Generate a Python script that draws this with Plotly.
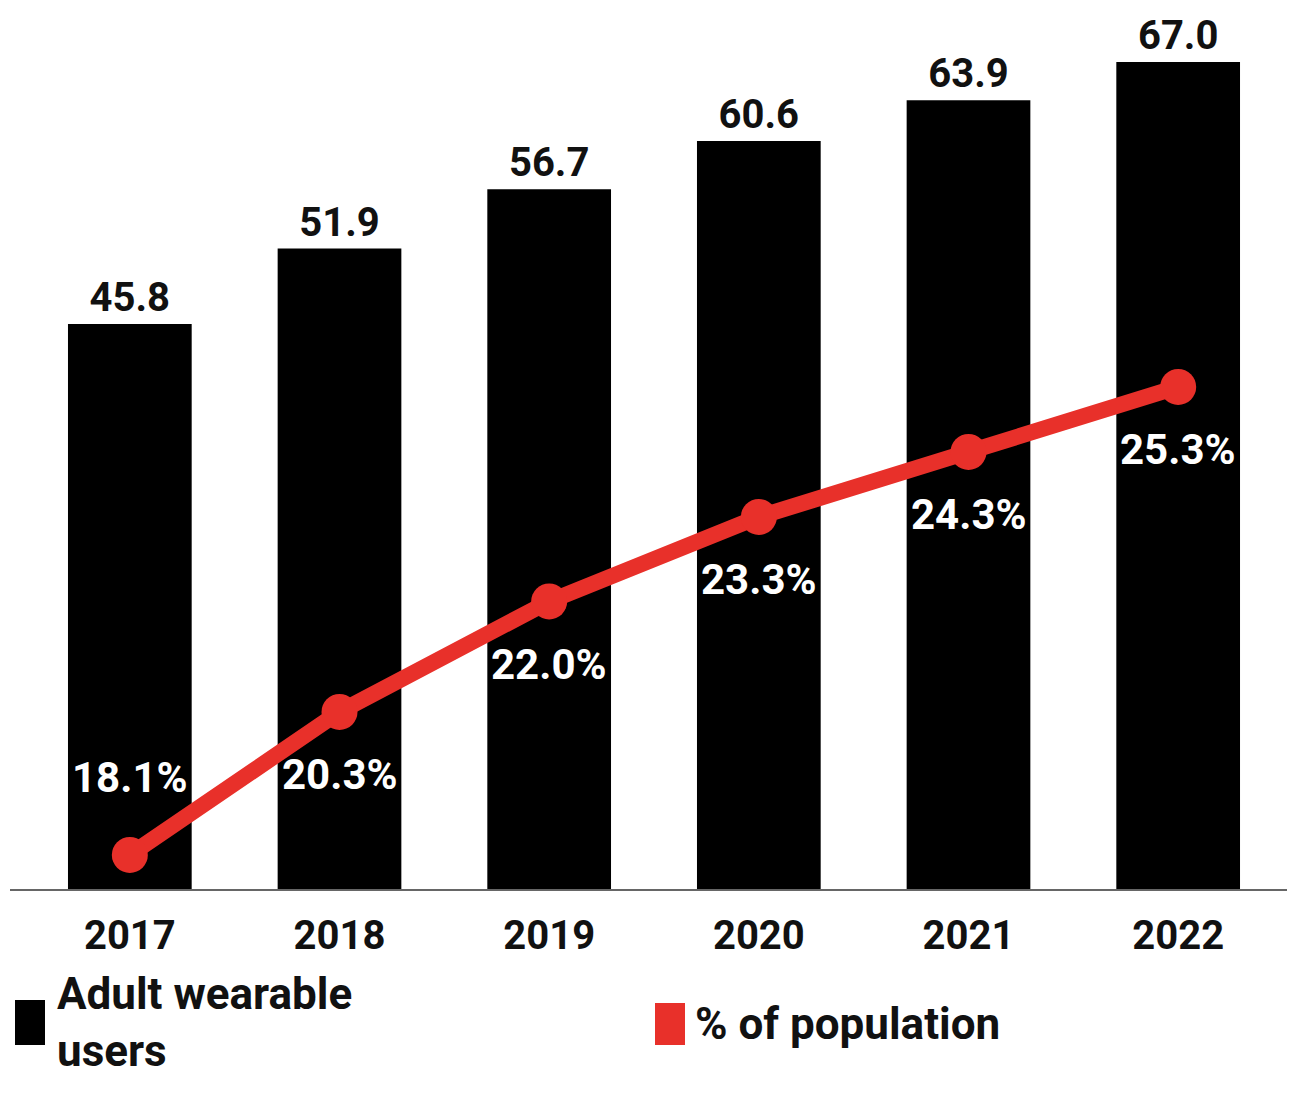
import plotly.graph_objects as go

years = ["2017", "2018", "2019", "2020", "2021", "2022"]
users = [45.8, 51.9, 56.7, 60.6, 63.9, 67.0]
pct = [18.1, 20.3, 22.0, 23.3, 24.3, 25.3]
pct_labels = ["18.1%", "20.3%", "22.0%", "23.3%", "24.3%", "25.3%"]
users_labels = ["45.8", "51.9", "56.7", "60.6", "63.9", "67.0"]
series_names = ["Adult wearable<br>users", "% of population"]

FONT = "Roboto, Arial, sans-serif"
RED = "#E8302A"
OFF = 8  # default body margin of the html page
W, H = 1295 - OFF, 1093 - OFF
L, R, T = 25 - OFF, 12, 0
BASE = 890 - OFF          # baseline in figure pixels
B = H - BASE
FS = 40

def tf(color="#111111", size=FS):
    return dict(family=FONT, size=size, color=color, weight="bold")

fig = go.Figure()
fig.add_trace(go.Bar(
    x=years, y=users, name=series_names[0],
    marker=dict(color="#000000", line=dict(width=0)),
    text=users_labels, textposition="outside", cliponaxis=False,
    textfont=tf(),
    showlegend=False,
))
fig.add_trace(go.Scatter(
    x=years, y=pct, name=series_names[1], yaxis="y2",
    mode="lines+markers",
    line=dict(color=RED, width=16),
    marker=dict(color=RED, size=36),
    cliponaxis=False, showlegend=False,
))

plot_w = W - L - R
plot_h = BASE - T
annotations = []
for i, (v, lab) in enumerate(zip(pct, pct_labels)):
    annotations.append(dict(
        x=i, y=v, xref="x", yref="y2", text=lab, showarrow=False,
        yshift=77 if i == 0 else -63, font=tf("#ffffff", 42),
        xanchor="center", yanchor="middle",
    ))

def px_x(p):
    return (p - OFF - L) / plot_w

def px_y(p):
    return (BASE - (p - OFF)) / plot_h

annotations += [
    dict(text=series_names[0], xref="paper", yref="paper",
         x=px_x(55), y=px_y(1023), xanchor="left", yanchor="middle",
         showarrow=False, align="left", font=tf(size=44)),
    dict(text=series_names[1], xref="paper", yref="paper",
         x=px_x(693), y=px_y(1024), xanchor="left", yanchor="middle",
         showarrow=False, align="left", font=tf(size=44)),
]

fig.update_layout(
    width=W, height=H,
    margin=dict(l=L, r=R, t=T, b=B),
    paper_bgcolor="white", plot_bgcolor="white",
    bargap=0.41,
    font=dict(family=FONT, size=FS, color="#111111"),
    xaxis=dict(type="category", range=[-0.5, 5.5], showgrid=False, showline=False,
               zeroline=False, ticks="", tickfont=tf(), ticklabelstandoff=18),
    yaxis=dict(range=[0, plot_h / 12.36], visible=False, showgrid=False),
    yaxis2=dict(range=[17.56, 17.56 + plot_h / 65.0], overlaying="y", visible=False, showgrid=False),
    shapes=[
        dict(type="line", xref="paper", yref="paper",
             x0=px_x(10), x1=px_x(1295), y0=0, y1=0,
             line=dict(color="#666666", width=2)),
        dict(type="rect", xref="paper", yref="paper",
             x0=px_x(15), x1=px_x(45), y0=px_y(1045), y1=px_y(1000),
             fillcolor="#000000", line=dict(width=0)),
        dict(type="rect", xref="paper", yref="paper",
             x0=px_x(655), x1=px_x(685), y0=px_y(1045), y1=px_y(1003),
             fillcolor=RED, line=dict(width=0)),
    ],
    annotations=annotations,
)
fig.write_html("out.html")
